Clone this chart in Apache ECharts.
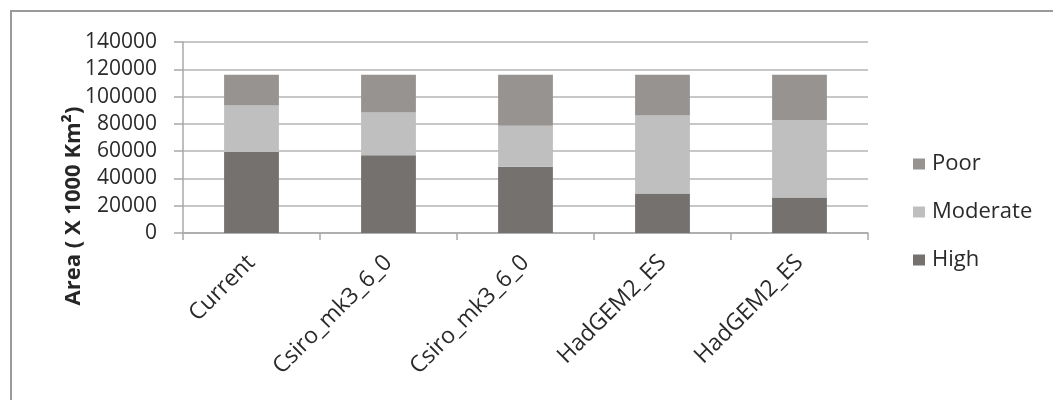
<!DOCTYPE html>
<html>
<head>
<meta charset="utf-8">
<script src="https://cdn.jsdelivr.net/npm/echarts@6/dist/echarts.min.js"></script>
<style>
html,body{margin:0;padding:0;background:#fff;}
#chart{width:1053px;height:400px;}
</style>
</head>
<body>
<div id="chart"></div>
<script>
const categories = ['Current', 'Csiro_mk3_6_0', 'Csiro_mk3_6_0', 'HadGEM2_ES', 'HadGEM2_ES'];
const highValues = [59300, 57000, 48500, 29000, 26000];
const moderateValues = [34100, 31300, 30200, 57100, 56700];
const poorValues = [22600, 27700, 37300, 29900, 33300];
const yTicks = [0, 20000, 40000, 60000, 80000, 100000, 120000, 140000];
const yAxisTitle = 'Area ( X 1000 Km²)';

const FONT = '"Open Sans", "DejaVu Sans", sans-serif';
const chart = echarts.init(document.getElementById('chart'), null, {renderer: 'canvas'});

chart.setOption({
  animation: false,
  backgroundColor: '#ffffff',
  textStyle: {fontFamily: FONT},
  grid: {left: 183, right: 185, top: 42, bottom: 167, containLabel: false},
  graphic: [
    {type: 'rect', shape: {x: 11, y: 11, width: 1200, height: 600},
     style: {fill: 'none', stroke: '#9a9a9a', lineWidth: 2}, silent: true, z: 0},
    {type: 'text', x: 74, y: 206, rotation: Math.PI / 2,
     style: {text: yAxisTitle, fontFamily: FONT, fontSize: 22, fontWeight: 'bold',
             fill: '#262626', align: 'center', verticalAlign: 'middle'}, z: 10}
  ],
  legend: {
    orient: 'vertical', left: 913, top: 152, padding: 0,
    data: ['Poor', 'Moderate', 'High'],
    itemWidth: 12, itemHeight: 11, itemGap: 24, icon: 'rect',
    textStyle: {fontFamily: FONT, fontSize: 22, color: '#2a2a2a', lineHeight: 24, padding: [0, 0, 0, 2]}
  },
  xAxis: {
    type: 'category', data: categories,
    axisLine: {show: true, lineStyle: {color: '#a8a8a8', width: 1.5}},
    axisTick: {show: true, alignWithLabel: false, length: 7, lineStyle: {color: '#a8a8a8', width: 1.5}},
    axisLabel: {interval: 0, rotate: 45, margin: 26, fontFamily: FONT, fontSize: 23, color: '#2a2a2a'}
  },
  yAxis: {
    type: 'value', min: 0, max: 140000, interval: 20000,
    axisLine: {show: true, lineStyle: {color: '#a8a8a8', width: 1.5}},
    axisTick: {show: true, length: 9, lineStyle: {color: '#a8a8a8', width: 1.5}},
    splitLine: {show: true, lineStyle: {color: '#b4b4b4', width: 1.5}},
    axisLabel: {margin: 26, fontFamily: FONT, fontSize: 21, color: '#2a2a2a',
                formatter: function (v) { return yTicks.indexOf(v) >= 0 ? String(v) : ''; }}
  },
  series: [
    {name: 'High', type: 'bar', stack: 'total', data: highValues, barWidth: '40%',
     itemStyle: {color: '#75716f'}},
    {name: 'Moderate', type: 'bar', stack: 'total', data: moderateValues, barWidth: '40%',
     itemStyle: {color: '#c0bfbf'}},
    {name: 'Poor', type: 'bar', stack: 'total', data: poorValues, barWidth: '40%',
     itemStyle: {color: '#979391'}}
  ]
});
</script>
</body>
</html>
